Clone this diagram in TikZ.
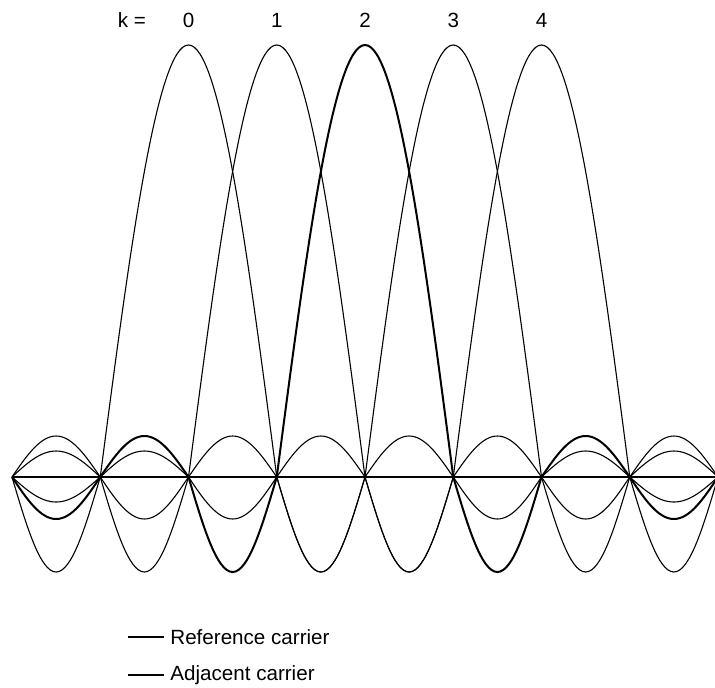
\documentclass[tikz,border=0pt]{standalone}
\usepackage{fontspec}
\setmainfont{Liberation Sans}
\usetikzlibrary{positioning}

\begin{document}
\begin{tikzpicture}[
  x=0.5pt, y=0.5pt,
  font=\fontsize{10.3}{12}\selectfont,
  adjcarrier/.style={line width=0.55pt},
  refcarrier/.style={line width=1pt},
  klbl/.style={inner sep=0pt},
  legtxt/.style={inner sep=0pt,anchor=west}
]
\useasboundingbox (0,0) rectangle (715,687);
\coordinate (o) at (12,210);
\coordinate (e) at (718,210);
\draw[adjcarrier] (o) -- (e);
% adjacent carriers, one half wave per gap
\draw[adjcarrier] (o) \foreach \w/\a in {44.125/-95,88.25/432,44.125/-95,44.125/41,44.125/-42,44.125/26,44.125/-25} { sin ++(\w,\a) cos ++(\w,-\a) };
\draw[adjcarrier] (o) \foreach \w/\a in {44.125/41,44.125/-95,88.25/432,44.125/-95,44.125/41,44.125/-42,44.125/26} { sin ++(\w,\a) cos ++(\w,-\a) };
\draw[adjcarrier] (o) \foreach \w/\a in {44.125/26,44.125/-42,44.125/41,44.125/-95,88.25/432,44.125/-95,44.125/41} { sin ++(\w,\a) cos ++(\w,-\a) };
\draw[adjcarrier] (o) \foreach \w/\a in {44.125/-25,44.125/26,44.125/-42,44.125/41,44.125/-95,88.25/432,44.125/-95} { sin ++(\w,\a) cos ++(\w,-\a) };
% reference carrier
\draw[refcarrier] (o) \foreach \w/\a in {44.125/-42,44.125/41,44.125/-95,88.25/432,44.125/-95,44.125/41,44.125/-42} { sin ++(\w,\a) cos ++(\w,-\a) };
% labels
\node[klbl] (keq) at (132,667) {k =};
\foreach \k in {0,...,4}
  \node[klbl] (lk\k) at ({188.5+88.25*\k},667) {\k};
% legend
\coordinate (refa) at (128,50);
\coordinate (refb) at (164,50);
\draw[refcarrier] (refa) -- (refb);
\node[legtxt,right=3pt of refb] (reftxt) {Reference carrier};
\coordinate (adja) at (128,12);
\coordinate (adjb) at (164,12);
\draw[adjcarrier] (adja) -- (adjb);
\node[legtxt,right=3pt of adjb] (adjtxt) {Adjacent carrier};
\end{tikzpicture}
\end{document}
